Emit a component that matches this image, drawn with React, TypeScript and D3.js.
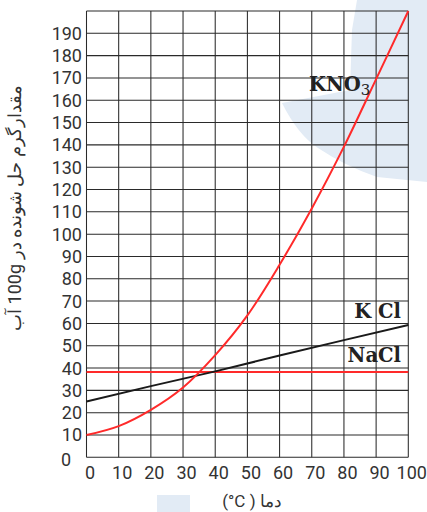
import React from "react";
import * as d3 from "d3";

const W = 427;
const H = 512;

const temps = [0, 10, 20, 30, 40, 50, 60, 70, 80, 90, 100];
const kno3 = [10, 14, 21.3, 31.3, 45.8, 63.6, 86.3, 111.5, 139.2, 169.5, 200];
const kclTemps = [0, 20, 40, 60, 80, 100];
const kcl = [25, 31.9, 38.5, 45.6, 52.5, 59.3];
const naclTemps = [0, 50, 100];
const nacl = [38.2, 38.2, 38.2];

const xTicks = [0, 10, 20, 30, 40, 50, 60, 70, 80, 90, 100];
const yTicks = [10, 20, 30, 40, 50, 60, 70, 80, 90, 100, 110, 120, 130, 140, 150, 160, 170, 180, 190];
const gridY = [0, 10, 20, 30, 40, 50, 60, 70, 80, 90, 100, 110, 120, 130, 140, 150, 160, 170, 180, 190, 200];

const xTitle = "(°C ) دما";
const yTitle = "مقدارگرم حل شونده در 100g آب";

export default function App() {
  const x = d3.scaleLinear().domain([0, 100]).range([86.5, 408.3]);
  const y = d3.scaleLinear().domain([0, 200]).range([457.3, 11]);

  const line = d3
    .line<[number, number]>()
    .x((d) => x(d[0]))
    .y((d) => y(d[1]))
    .curve(d3.curveCatmullRom.alpha(0.5));
  const straight = d3
    .line<[number, number]>()
    .x((d) => x(d[0]))
    .y((d) => y(d[1]));

  const kno3Pts = temps.map((t, i) => [t, kno3[i]] as [number, number]);
  const kclPts = kclTemps.map((t, i) => [t, kcl[i]] as [number, number]);
  const naclPts = naclTemps.map((t, i) => [t, nacl[i]] as [number, number]);

  const txt = "#333";
  const digitFont = "Roboto, 'Noto Sans', sans-serif";
  const serif = "'DejaVu Serif', 'Liberation Serif', serif";

  return (
    <svg
      width={W}
      height={H}
      style={{ position: "absolute", left: 0, top: 0, background: "#fff" }}
    >
      {/* watermark */}
      <path
        d="M357,0 L352,30 L350,90 L282,103 Q298,135 318,148 Q345,166 377,177 L427,182 L427,0 Z"
        fill="#e2ebf5"
      />
      <rect x={157} y={495} width={33} height={17} fill="#e2ebf5" />

      {/* grid */}
      {gridY.map((v) => (
        <line key={"gy" + v} x1={x(0)} x2={x(100)} y1={y(v)} y2={y(v)} stroke="#2a2a2a" strokeWidth={1.05} />
      ))}
      {xTicks.map((v) => (
        <line key={"gx" + v} x1={x(v)} x2={x(v)} y1={y(0)} y2={y(200)} stroke="#2a2a2a" strokeWidth={1.05} />
      ))}

      {/* curves */}
      <path d={straight(naclPts) || ""} fill="none" stroke="#ff2a2a" strokeWidth={2} />
      <path d={straight(kclPts) || ""} fill="none" stroke="#1a1a1a" strokeWidth={2} />
      <path d={line(kno3Pts) || ""} fill="none" stroke="#ff2a2a" strokeWidth={2} />

      {/* y tick labels */}
      {yTicks.map((v) => (
        <text
          key={"yt" + v}
          x={82}
          y={y(v)}
          dy="0.36em"
          textAnchor="end"
          fontFamily={digitFont}
          fontSize={18}
          fill={txt}
        >
          {v}
        </text>
      ))}
      <text x={66} y={460} dy="0.36em" textAnchor="middle" fontFamily={digitFont} fontSize={18} fill={txt}>
        0
      </text>

      {/* x tick labels */}
      {xTicks.map((v) => (
        <text
          key={"xt" + v}
          x={x(v) + 3.5}
          y={478.5}
          textAnchor="middle"
          fontFamily={digitFont}
          fontSize={18}
          fill={txt}
        >
          {v}
        </text>
      ))}

      {/* series labels */}
      <text x={309} y={91} fontFamily={serif} fontWeight="bold" fontSize={19.5} fill="#222">
        KNO<tspan fontWeight="normal" fontSize={15} dy={4}>3</tspan>
      </text>
      <text x={401} y={318} textAnchor="end" fontFamily={serif} fontWeight="bold" fontSize={19.5} fill="#222">
        K Cl
      </text>
      <text x={401} y={361.5} textAnchor="end" fontFamily={serif} fontWeight="bold" fontSize={19.5} fill="#222">
        NaCl
      </text>

      {/* axis titles */}
      <text x={252} y={507} textAnchor="middle" fontFamily={digitFont} fontSize={17} fill={txt}>
        {xTitle}
      </text>
      <text
        transform="translate(21,208) rotate(-90)"
        textAnchor="middle"
        direction="rtl"
        fontFamily={digitFont}
        fontSize={18}
        fill={txt}
      >
        {yTitle}
      </text>
    </svg>
  );
}
